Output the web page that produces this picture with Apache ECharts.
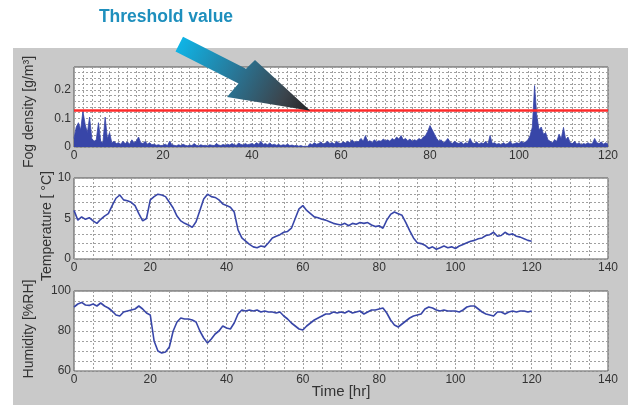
<!DOCTYPE html>
<html>
<head>
<meta charset="utf-8">
<script src="https://cdn.jsdelivr.net/npm/echarts@6/dist/echarts.min.js"></script>
<style>html,body{margin:0;padding:0;background:#fff}#c{width:628px;height:405px}</style>
</head>
<body>
<div id="c"></div>
<script>
// ---- data ----
const fogStepHours = 0.5;
const fogValues = [
 0.03,0.07,0.085,0.06,0.125,0.08,0.05,0.105,0.03,0.02,0.025,0.085,0.02,0.015,0.105,0.03,0.05,0.015,0.02,0.012,
 0.015,0.01,0.02,0.012,0.018,0.01,0.025,0.015,0.02,0.035,0.015,0.012,0.02,0.01,0.015,0.008,0.01,0.006,0.008,0.005,
 0.006,0.01,0.005,0.02,0.008,0.006,0.004,0.008,0.005,0.01,0.006,0.004,0.007,0.005,0.012,0.006,0.004,0.008,0.005,0.006,
 0.004,0.008,0.006,0.005,0.012,0.007,0.005,0.009,0.006,0.01,0.007,0.012,0.008,0.006,0.014,0.009,0.007,0.012,0.008,0.01,
 0.012,0.008,0.015,0.01,0.02,0.009,0.012,0.008,0.014,0.007,0.01,0.006,0.009,0.005,0.008,0.006,0.01,0.005,0.007,0.004,
 0.006,0.003,0.005,0.002,0.003,0.002,0.012,0.008,0.015,0.01,0.012,0.018,0.01,0.014,0.02,0.012,0.016,0.01,0.02,0.014,
 0.012,0.018,0.014,0.02,0.015,0.025,0.016,0.02,0.018,0.03,0.02,0.04,0.018,0.022,0.016,0.025,0.018,0.022,0.02,0.028,
 0.022,0.025,0.02,0.03,0.024,0.035,0.028,0.04,0.025,0.03,0.022,0.028,0.02,0.025,0.022,0.03,0.025,0.035,0.04,0.055,
 0.075,0.06,0.045,0.03,0.02,0.025,0.015,0.02,0.03,0.018,0.012,0.02,0.015,0.012,0.018,0.01,0.015,0.012,0.03,0.015,
 0.012,0.018,0.01,0.015,0.012,0.02,0.01,0.04,0.012,0.015,0.01,0.012,0.008,0.015,0.01,0.012,0.02,0.01,0.012,0.015,
 0.012,0.02,0.015,0.018,0.025,0.04,0.07,0.215,0.11,0.06,0.07,0.045,0.05,0.025,0.02,0.015,0.025,0.02,0.045,0.03,
 0.068,0.025,0.035,0.015,0.012,0.02,0.01,0.015,0.008,0.012,0.01,0.015,0.01,0.012,0.03,0.015,0.012,0.018,0.01,0.015,
 0.01
];
const threshold = 0.125;

// hourly samples, t = 0..120 h
const temperature = [
 6.0,4.8,5.2,4.9,5.1,4.7,4.4,4.9,5.3,5.6,6.6,7.5,7.9,7.3,7.2,7.0,6.6,5.6,4.7,5.0,
 7.3,7.7,8.0,7.9,7.7,7.0,6.3,5.3,4.7,4.4,4.2,3.9,4.6,6.0,7.4,8.0,7.7,7.6,7.3,6.8,
 6.6,6.4,5.8,3.6,2.6,2.2,1.8,1.5,1.4,1.6,1.5,2.0,2.6,2.8,3.0,3.3,3.4,3.8,5.0,6.2,
 6.6,6.0,5.6,5.2,5.1,4.9,4.8,4.6,4.4,4.3,4.2,4.4,4.1,4.4,4.3,4.5,4.4,4.5,4.2,4.0,
 4.1,3.8,4.8,5.5,5.8,5.6,5.4,4.5,3.5,2.6,2.0,1.9,1.7,1.3,1.5,1.2,1.4,1.6,1.4,1.5,
 1.3,1.6,1.8,2.0,2.2,2.3,2.5,2.6,2.9,3.0,3.3,2.8,2.9,3.3,3.0,3.1,2.8,2.7,2.5,2.3,
 2.2
];
const humidity = [
 92,93.5,94.3,93,92.8,93.5,92.5,94,92.5,91.5,90,88,87.5,89.5,90,90.5,91,92.5,91,89,
 88,75,70,69,69.5,72,80,84.5,86.5,86,86,85.5,84.5,80,76.5,74,76,78.5,80,82.5,
 81.5,81,84,88.5,90.5,90,90.5,90,90.5,89.5,90,89.5,89.5,89,89.5,87.5,86,84,82.5,81,
 80.5,82.5,84,85.5,86.5,87.5,88.5,88.5,89.5,89,89.5,89,90,89,89.5,90,88.5,89.5,90.5,90.5,
 91,91.5,89,85.5,83,82,83.5,85,86.5,87.5,88,88.5,91,92,91.5,90.5,90,90.5,90,90,
 90,89.5,90.5,92,92.5,92.5,91,89.5,88.5,88,87.5,89.5,89.5,88.5,89.5,90,89.5,90,90,89.5,
 90
];
const xTicksTop = [0, 120, 20];      // min, max, label step
const xTicksBottom = [0, 140, 20];

// ---- build ----
const fogData = fogValues.map((v, i) => [i * fogStepHours, v]);
const tempData = temperature.map((v, i) => [i, v]);
const humData = humidity.map((v, i) => [i, v]);

const FONT = 'Liberation Sans, Arial, Helvetica, sans-serif';
const LINE = '#3846a8';
const gridCommon = { left: 74, width: 534, show: true, backgroundColor: '#ffffff', borderColor: '#555', borderWidth: 1 };
const split = { show: true, lineStyle: { color: '#a0a0a0', type: [2, 2], width: 1 } };
const lab = { color: '#333', fontFamily: FONT, fontSize: 12, margin: 3 };

function xAxis(gi, ext, minorN) {
  return {
    type: 'value', gridIndex: gi, min: ext[0], max: ext[1], interval: ext[2],
    axisLine: { show: false }, axisTick: { show: false },
    axisLabel: lab, splitLine: split,
    minorTick: { show: false, splitNumber: minorN },
    minorSplitLine: split
  };
}

const chart = echarts.init(document.getElementById('c'), null, { renderer: 'canvas' });
chart.setOption({
  animation: false,
  backgroundColor: '#ffffff',
  grid: [
    Object.assign({ top: 67, height: 80 }, gridCommon),
    Object.assign({ top: 178, height: 81 }, gridCommon),
    Object.assign({ top: 291, height: 80 }, gridCommon)
  ],
  xAxis: [
    xAxis(0, xTicksTop, 10),
    xAxis(1, xTicksBottom, 4),
    xAxis(2, xTicksBottom, 4)
  ],
  yAxis: [
    {
      type: 'value', gridIndex: 0, min: 0, max: 0.28, interval: 0.02,
      axisLine: { show: false }, axisTick: { show: false },
      axisLabel: Object.assign({}, lab, {
        formatter: function (v) {
          const r = Math.round(v * 10) / 10;
          if (Math.abs(v - r) < 1e-7 && r <= 0.2) return r === 0 ? '0' : r.toFixed(1);
          return '';
        }
      }),
      splitLine: split
    },
    {
      type: 'value', gridIndex: 1, min: 0, max: 10, interval: 5,
      axisLine: { show: false }, axisTick: { show: false }, axisLabel: lab,
      splitLine: split, minorTick: { show: false, splitNumber: 5 }, minorSplitLine: split
    },
    {
      type: 'value', gridIndex: 2, min: 60, max: 100, interval: 20,
      axisLine: { show: false }, axisTick: { show: false }, axisLabel: lab,
      splitLine: split, minorTick: { show: false, splitNumber: 4 }, minorSplitLine: split
    }
  ],
  series: [
    {
      type: 'line', xAxisIndex: 0, yAxisIndex: 0, data: fogData, symbol: 'none',
      lineStyle: { color: LINE, width: 0.8 }, areaStyle: { color: LINE, opacity: 1 },
      markLine: {
        silent: true, symbol: 'none', label: { show: false },
        lineStyle: { color: '#ff2a2a', width: 2.5, type: 'solid' },
        data: [{ yAxis: threshold }]
      }
    },
    {
      type: 'line', xAxisIndex: 1, yAxisIndex: 1, data: tempData, symbol: 'none',
      lineStyle: { color: LINE, width: 1.6 }
    },
    {
      type: 'line', xAxisIndex: 2, yAxisIndex: 2, data: humData, symbol: 'none',
      lineStyle: { color: LINE, width: 1.6 }
    }
  ],
  graphic: { elements: [
    { type: 'rect', z: -100, shape: { x: 13, y: 48, width: 615, height: 357 }, style: { fill: '#c9c9c9' } },
    { type: 'text', z: 100, x: 166, y: 17, style: { text: 'Threshold value', fill: '#1e8fbd', font: 'bold 17.5px ' + FONT, align: 'center', verticalAlign: 'middle' } },
    { type: 'polygon', z: 100,
      shape: { points: [[183, 36.8], [246, 68.7], [255, 60], [310.3, 110.7], [227, 97], [238.5, 83.5], [175.5, 51.6]] },
      style: { fill: { type: 'linear', x: 179, y: 44, x2: 310, y2: 111, global: true,
        colorStops: [{ offset: 0, color: '#0fb4e6' }, { offset: 0.45, color: '#2a7392' }, { offset: 0.8, color: '#3b444c' }, { offset: 1, color: '#232323' }] } } },
    { type: 'text', z: 50, x: 29, y: 112, rotation: Math.PI / 2, style: { text: 'Fog density [g/m³]', fill: '#333', font: '14px ' + FONT, align: 'center', verticalAlign: 'middle' } },
    { type: 'text', z: 50, x: 47, y: 226, rotation: Math.PI / 2, style: { text: 'Temperature [ °C]', fill: '#333', font: '14px ' + FONT, align: 'center', verticalAlign: 'middle' } },
    { type: 'text', z: 50, x: 29, y: 329, rotation: Math.PI / 2, style: { text: 'Humidity [%RH]', fill: '#333', font: '14px ' + FONT, align: 'center', verticalAlign: 'middle' } },
    { type: 'text', z: 50, x: 341, y: 392, style: { text: 'Time [hr]', fill: '#333', font: '15px ' + FONT, align: 'center', verticalAlign: 'middle' } }
  ] }
});
</script>
</body>
</html>
